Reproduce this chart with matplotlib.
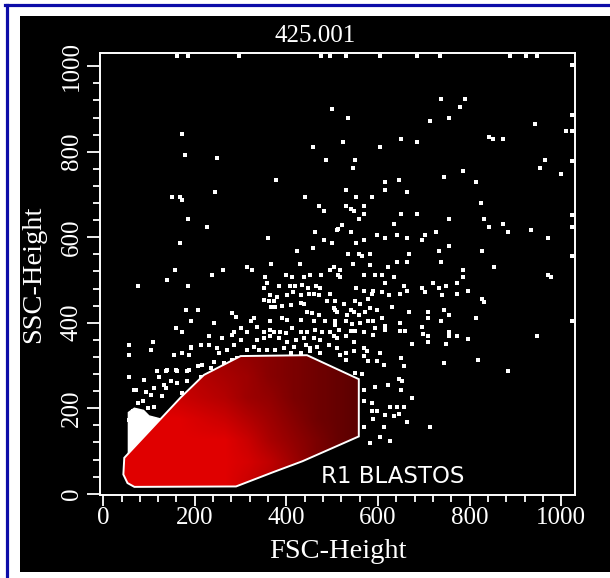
import numpy as np
import matplotlib.pyplot as plt
from matplotlib.colors import LinearSegmentedColormap
from matplotlib.patches import Polygon, Rectangle
from matplotlib.lines import Line2D
from matplotlib.ticker import MultipleLocator

# events outside the R1 gate, (FSC-Height, SSC-Height) channels
events_left = [
    (173, 841), (179, 792), (249, 786), (458, 811), (487, 780), (378, 735), (243, 706),
    (150, 693), (168, 693), (173, 686), (441, 693), (471, 674), (481, 661), (185, 643),
    (226, 623), (359, 599), (463, 612), (481, 593), (168, 587), (458, 574), (423, 568),
    (156, 524), (237, 511), (261, 524), (313, 531), (325, 524), (367, 537), (429, 537),
    (75, 487), (139, 499), (185, 487), (354, 506), (358, 492), (400, 511), (413, 506),
    (439, 506), (452, 511), (476, 511), (496, 524), (383, 487), (407, 487), (418, 487),
    (435, 488), (447, 481), (465, 487), (474, 481), (351, 481), (365, 465), (380, 461),
    (351, 453), (362, 450), (373, 451), (402, 465), (415, 473), (431, 465), (449, 467),
    (460, 467), (471, 465), (496, 467), (489, 450), (431, 446), (438, 443), (409, 442),
    (391, 438), (367, 436), (376, 436), (445, 426), (456, 422), (471, 418), (180, 430),
    (206, 430), (282, 422), (289, 414), (329, 411), (322, 403), (365, 405), (391, 411),
    (402, 407), (431, 407), (460, 403), (485, 403), (191, 405), (242, 399), (158, 387),
    (171, 379), (300, 387), (336, 391), (285, 379), (314, 379), (351, 379), (365, 383),
    (373, 379), (387, 379), (398, 376), (413, 387), (431, 379), (445, 379), (463, 383),
    (478, 379), (496, 379), (231, 368), (260, 364), (282, 372), (300, 360), (336, 360),
    (351, 364), (365, 368), (383, 364), (402, 356), (420, 360), (438, 364), (460, 364),
    (474, 360), (57, 348), (108, 356), (191, 342), (213, 348), (249, 340), (271, 337),
    (285, 348), (314, 337), (329, 344), (340, 337), (358, 337), (376, 337), (394, 340),
    (416, 344), (442, 348), (452, 340), (467, 344), (492, 348), (57, 325), (104, 337),
    (173, 329), (187, 325), (253, 329), (293, 317), (409, 329), (474, 329), (452, 333),
    (431, 329), (242, 309), (216, 301), (271, 301), (282, 313), (57, 274), (89, 266),
    (68, 243), (93, 239), (111, 247), (122, 274), (140, 290), (158, 290), (187, 290),
    (162, 259), (137, 247), (206, 298), (235, 294), (184, 263), (213, 274), (155, 325),
    (191, 344), (231, 348), (118, 286), (137, 286), (162, 286), (184, 286), (133, 255),
    (148, 263), (71, 243), (104, 231), (129, 228), (75, 212), (86, 216), (64, 193),
    (79, 193), (97, 200), (111, 204), (173, 235), (264, 305), (57, 173), (60, 157),
    (71, 177),
]
events_right = [
    (500, 899), (738, 923), (790, 923), (779, 904), (534, 880), (714, 873), (755, 880),
    (942, 866), (651, 830), (686, 823), (523, 823), (605, 811), (843, 835), (850, 830),
    (872, 830), (1011, 848), (964, 780), (953, 761), (1000, 749), (550, 780), (545, 761),
    (744, 742), (785, 755), (616, 730), (645, 735), (813, 730), (529, 711), (616, 711),
    (663, 705), (552, 693), (587, 693), (569, 674), (529, 674), (540, 666), (547, 661),
    (569, 655), (651, 655), (686, 655), (824, 680), (558, 643), (755, 643), (831, 643),
    (634, 630), (843, 624), (872, 630), (935, 618), (884, 612), (511, 618), (521, 629),
    (540, 612), (569, 593), (598, 605), (616, 598), (641, 605), (663, 599), (703, 605),
    (696, 593), (727, 612), (971, 599), (552, 587), (755, 580), (826, 568), (732, 568),
    (668, 561), (534, 561), (558, 561), (565, 555), (582, 561), (641, 543), (663, 543),
    (545, 537), (583, 534), (621, 531), (738, 543), (854, 531), (503, 531), (516, 524),
    (569, 512), (594, 512), (609, 512), (785, 524), (971, 512), (977, 506), (516, 506),
    (634, 506), (616, 493), (657, 487), (721, 493), (749, 487), (773, 493), (785, 506),
    (552, 481), (569, 474), (590, 474), (587, 467), (609, 473), (623, 465), (648, 467),
    (663, 474), (696, 481), (703, 473), (732, 481), (739, 464), (772, 468), (796, 474),
    (826, 455), (831, 449), (525, 443), (540, 430), (550, 450), (561, 443), (579, 455),
    (507, 430), (532, 418), (547, 426), (558, 418), (572, 424), (583, 434), (598, 430),
    (630, 436), (668, 425), (708, 425), (708, 411), (743, 430), (755, 418), (813, 412),
    (507, 403), (531, 403), (543, 397), (561, 399), (579, 403), (590, 404), (609, 411),
    (616, 393), (648, 399), (737, 405), (540, 381), (550, 381), (569, 379), (594, 387),
    (616, 383), (648, 381), (659, 381), (696, 389), (698, 373), (708, 368), (755, 379),
    (755, 368), (772, 368), (796, 362), (946, 368), (511, 364), (529, 368), (547, 356),
    (590, 372), (674, 350), (708, 356), (749, 350), (511, 340), (529, 329), (547, 333),
    (569, 340), (576, 333), (605, 329), (651, 317), (569, 321), (518, 325), (529, 313),
    (579, 311), (598, 311), (612, 301), (656, 298), (744, 305), (819, 312), (884, 287),
    (550, 282), (565, 280), (645, 269), (652, 263), (621, 255), (569, 243), (593, 249),
    (651, 243), (674, 224), (569, 216), (587, 212), (627, 204), (641, 204), (656, 204),
    (587, 194), (598, 194), (616, 185), (634, 181), (645, 186), (590, 175), (663, 168),
    (714, 156), (612, 155), (569, 155), (605, 132), (627, 124), (583, 118), (503, 368),
    (507, 395), (514, 383), (511, 426), (503, 434), (507, 450), (512, 512), (512, 619),
    (500, 587),
]
# off-scale events piled on the top and right edges
top_edge_fsc = [162, 185, 296, 476, 496, 529, 605, 686, 736, 888, 924, 946]
right_edge_ssc = [1003, 886, 848, 778, 652, 625, 555, 404]
edge_channel = 1023

# dense ungated events left of the gate
blob_fsc = [55, 55, 68, 88, 100, 125, 60]
blob_ssc = [85, 190, 200, 195, 182, 175, 90]

# R1 BLASTOS gate outline
gate_fsc = [53, 68, 290, 370, 435, 558, 558, 445, 300, 220, 169, 46, 44]
gate_ssc = [25, 16, 17, 50, 76, 134, 268, 324, 322, 278, 225, 84, 45]

# share of red (gated) events per 50x50 channel cell, rows from SSC 0 upward
density_fsc_edges = [40, 590]
density_ssc_edges = [0, 350]
red_density = [
    [1.00, 1.00, 1.00, 1.00, 1.00, 0.90, 0.80, 0.65, 0.55, 0.45, 0.40],
    [1.00, 1.00, 1.00, 1.00, 1.00, 0.95, 0.85, 0.70, 0.55, 0.45, 0.40],
    [1.00, 1.00, 1.00, 1.00, 1.00, 0.90, 0.75, 0.65, 0.55, 0.45, 0.40],
    [1.00, 1.00, 1.00, 0.95, 0.90, 0.80, 0.70, 0.60, 0.50, 0.45, 0.40],
    [0.95, 0.95, 0.90, 0.85, 0.80, 0.70, 0.65, 0.55, 0.50, 0.45, 0.40],
    [0.90, 0.90, 0.85, 0.80, 0.75, 0.70, 0.60, 0.55, 0.50, 0.45, 0.40],
    [0.85, 0.85, 0.80, 0.75, 0.70, 0.65, 0.60, 0.55, 0.50, 0.45, 0.40],
]

serif = 'Liberation Serif'

fig = plt.figure(figsize=(6.10, 5.78), dpi=100)
fig.patch.set_facecolor('white')

# black instrument panel and the blue window edge
fig.patches.append(Rectangle((20 / 610, 6 / 578), 590 / 610, 556 / 578,
                             transform=fig.transFigure, facecolor='black',
                             edgecolor='none', zorder=-10))
fig.lines.append(Line2D([6.5 / 610, 6.5 / 610], [0, 573 / 578], transform=fig.transFigure,
                        color='#0c0ca8', lw=2.3))
fig.lines.append(Line2D([5 / 610, 1], [573 / 578, 573 / 578], transform=fig.transFigure,
                        color='#0c0ca8', lw=2.3))

ax = fig.add_axes([100 / 610, 83 / 578, 475 / 610, 441.6 / 578])
ax.set_facecolor('black')

left = np.array(events_left)
right = np.array(events_right)
ax.scatter(left[:, 0], left[:, 1], s=5, marker='s', c='white', linewidths=0, zorder=1)
ax.scatter(right[:, 0], right[:, 1], s=5, marker='s', c='white', linewidths=0, zorder=1)
ax.scatter(top_edge_fsc, [edge_channel] * len(top_edge_fsc), s=5, marker='s',
           c='white', linewidths=0, zorder=1, clip_on=False)
ax.scatter([edge_channel] * len(right_edge_ssc), right_edge_ssc, s=5, marker='s',
           c='white', linewidths=0, zorder=1, clip_on=False)

ax.add_patch(Polygon(np.column_stack([blob_fsc, blob_ssc]), closed=True,
                     facecolor='white', edgecolor='white', lw=1, zorder=1))

cmap = LinearSegmentedColormap.from_list('gated', ['black', '#e00000'])
im = ax.imshow(np.array(red_density), origin='lower', cmap=cmap, vmin=0, vmax=1,
               extent=(density_fsc_edges[0], density_fsc_edges[1],
                       density_ssc_edges[0], density_ssc_edges[1]),
               interpolation='bilinear', aspect='auto', zorder=2)
gate = Polygon(np.column_stack([gate_fsc, gate_ssc]), closed=True, fill=False,
               edgecolor='white', lw=1.4, zorder=4)
ax.add_patch(gate)
im.set_clip_path(gate)

ax.text(475, 40, 'R1 BLASTOS', color='white', fontsize=16.5, family='DejaVu Sans',
        ha='left', va='center', zorder=5)

ax.set_xlim(-7, 1030)
ax.set_ylim(-3, 1030)

for s in ax.spines.values():
    s.set_color('white')
    s.set_linewidth(1.4)

ax.xaxis.set_major_locator(MultipleLocator(200))
ax.xaxis.set_minor_locator(MultipleLocator(40))
ax.yaxis.set_major_locator(MultipleLocator(200))
ax.yaxis.set_minor_locator(MultipleLocator(40))
ax.tick_params(axis='x', which='major', length=8, width=1.3, color='white',
               labelcolor='white', labelsize=18, pad=1)
ax.tick_params(axis='x', which='minor', length=5, width=1.3, color='white')
ax.tick_params(axis='y', which='major', length=9.5, width=1.3, color='white',
               labelcolor='white', labelsize=18, pad=3, labelrotation=90)
ax.tick_params(axis='y', which='minor', length=5, width=1.3, color='white')
for lab in ax.get_xticklabels() + ax.get_yticklabels():
    lab.set_family(serif)
for lab in ax.get_yticklabels():
    lab.set_va('center')

ax.set_xlabel('FSC-Height', color='white', fontsize=20.5, family=serif)
ax.set_ylabel('SSC-Height', color='white', fontsize=20.5, family=serif)
ax.xaxis.set_label_coords(0.5, -0.128)
ax.xaxis.label.set_va('center')
ax.yaxis.set_label_coords(-0.139, 0.5)
ax.yaxis.label.set_va('center')

fig.text(315 / 610, (578 - 36) / 578, '425.001', color='white', fontsize=18,
         family=serif, ha='center', va='center')

fig.savefig('out.png', dpi=100, facecolor='white')
